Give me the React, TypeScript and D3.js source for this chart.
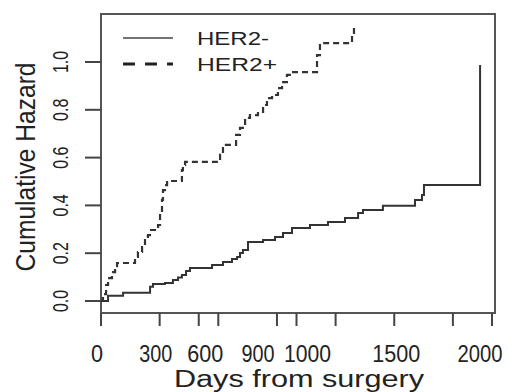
import React, { useEffect, useRef } from 'react';
import * as d3 from 'd3';

// HER2- cumulative hazard (step times in days, value after the step)
const herNegDays = [0, 36, 113, 251, 266, 327, 368, 394, 414, 435, 455, 568, 624, 670, 696, 711, 726, 752, 829, 890, 931, 977, 1069, 1161, 1248, 1315, 1340, 1442, 1606, 1642, 1652, 1939];
const herNegHazard = [0, 0.022, 0.035, 0.06, 0.071, 0.075, 0.088, 0.098, 0.109, 0.126, 0.138, 0.151, 0.163, 0.176, 0.184, 0.201, 0.213, 0.247, 0.255, 0.268, 0.285, 0.305, 0.318, 0.331, 0.347, 0.368, 0.381, 0.399, 0.423, 0.444, 0.485, 0.987];

// HER2+ cumulative hazard
const herPosDays = [0, 10, 26, 36, 56, 72, 82, 174, 189, 210, 225, 240, 256, 292, 302, 312, 317, 327, 338, 414, 419, 430, 609, 624, 639, 691, 711, 737, 762, 803, 829, 849, 875, 905, 926, 951, 977, 1105, 1120, 1130, 1284, 1294];
const herPosHazard = [0, 0.029, 0.067, 0.096, 0.121, 0.146, 0.159, 0.184, 0.205, 0.226, 0.255, 0.276, 0.297, 0.318, 0.372, 0.423, 0.464, 0.485, 0.502, 0.548, 0.569, 0.582, 0.611, 0.64, 0.653, 0.695, 0.724, 0.766, 0.778, 0.791, 0.82, 0.849, 0.862, 0.891, 0.916, 0.946, 0.958, 1.029, 1.071, 1.079, 1.113, 1.142];

const xTicks = [0, 300, 500, 600, 900, 1000, 1200, 1500, 1800, 2000];
const xLabelValues = [0, 300, 600, 900, 1000, 1500, 2000];
const xLabels = ['0', '300', '600', '900', '1000', '1500', '2000'];
const yTicks = [0, 0.2, 0.4, 0.6, 0.8, 1.0];
const yLabels = ['0.0', '0.2', '0.4', '0.6', '0.8', '1.0'];
const seriesNames = ['HER2-', 'HER2+'];

// label nudges as they sit in the source picture (px)
const xLabelShift = [-4, -4, -13, -19, 11, 2, -12];
const xLabelWidth = [12, 33, 36, 33, 47, 48, 45];

const FONT = '"Liberation Sans", Arial, sans-serif';
const INK = '#333';

export default function App() {
  const svgRef = useRef<SVGSVGElement>(null);

  useEffect(() => {
    if (!svgRef.current) return;
    const svg = d3.select(svgRef.current);
    svg.selectAll('*').remove();

    const x = d3.scaleLinear().domain([0, 2000]).range([101, 492]);
    const y = d3.scaleLinear().domain([0, 1]).range([301, 62]);

    const box = { left: 101, right: 495, top: 14, bottom: 313 };

    svg.append('rect')
      .attr('x', box.left)
      .attr('y', box.top)
      .attr('width', box.right - box.left)
      .attr('height', box.bottom - box.top)
      .attr('fill', 'none')
      .attr('stroke', '#555')
      .attr('stroke-width', 2);

    // x ticks
    svg.append('g').selectAll('line')
      .data(xTicks)
      .enter()
      .append('line')
      .attr('x1', d => x(d))
      .attr('x2', d => x(d))
      .attr('y1', box.bottom)
      .attr('y2', box.bottom + 13)
      .attr('stroke', '#444')
      .attr('stroke-width', 2);

    svg.append('g').selectAll('text')
      .data(xLabelValues)
      .enter()
      .append('text')
      .attr('x', (d, i) => x(d) + xLabelShift[i])
      .attr('y', 362)
      .attr('text-anchor', 'middle')
      .attr('font-family', FONT)
      .attr('font-size', 23)
      .attr('textLength', (d, i) => xLabelWidth[i])
      .attr('lengthAdjust', 'spacingAndGlyphs')
      .attr('fill', '#222')
      .text((d, i) => xLabels[i]);

    // y ticks
    svg.append('g').selectAll('line')
      .data(yTicks)
      .enter()
      .append('line')
      .attr('x1', box.left - 16)
      .attr('x2', box.left)
      .attr('y1', d => y(d))
      .attr('y2', d => y(d))
      .attr('stroke', '#444')
      .attr('stroke-width', 2);

    svg.append('g').selectAll('text')
      .data(yTicks)
      .enter()
      .append('text')
      .attr('transform', d => `translate(68,${y(d)}) rotate(-90) scale(1,1.35)`)
      .attr('text-anchor', 'middle')
      .attr('font-family', FONT)
      .attr('font-size', 16)
      .attr('fill', '#222')
      .text((d, i) => yLabels[i]);

    svg.append('text')
      .attr('transform', 'translate(35,167) rotate(-90) scale(1,1.17)')
      .attr('text-anchor', 'middle')
      .attr('font-family', FONT)
      .attr('font-size', 24)
      .attr('textLength', 209)
      .attr('lengthAdjust', 'spacingAndGlyphs')
      .attr('fill', '#222')
      .text('Cumulative Hazard');

    svg.append('text')
      .attr('x', 299)
      .attr('y', 387)
      .attr('text-anchor', 'middle')
      .attr('font-family', FONT)
      .attr('font-size', 23.5)
      .attr('textLength', 250)
      .attr('lengthAdjust', 'spacingAndGlyphs')
      .attr('fill', '#222')
      .text('Days from surgery');

    const line = d3.line<[number, number]>()
      .x(d => x(d[0]))
      .y(d => y(d[1]))
      .curve(d3.curveStepAfter);

    const negPts = herNegDays.map((d, i) => [d, herNegHazard[i]] as [number, number]);
    const posPts = herPosDays.map((d, i) => [d, herPosHazard[i]] as [number, number]);

    svg.append('path')
      .attr('d', line(negPts))
      .attr('fill', 'none')
      .attr('stroke', INK)
      .attr('stroke-width', 2);

    svg.append('path')
      .attr('d', line(posPts))
      .attr('fill', 'none')
      .attr('stroke', INK)
      .attr('stroke-width', 2.2)
      .attr('stroke-dasharray', '6,4');

    // legend
    const legend = svg.append('g');
    seriesNames.forEach((name, i) => {
      const ly = 38 + i * 26;
      legend.append('line')
        .attr('x1', 123)
        .attr('x2', 173)
        .attr('y1', ly)
        .attr('y2', ly)
        .attr('stroke', i === 0 ? '#444' : '#222')
        .attr('stroke-width', i === 0 ? 1.6 : 2.8)
        .attr('stroke-dasharray', i === 0 ? null : '12,10');
      legend.append('text')
        .attr('x', 197)
        .attr('y', ly + 7)
        .attr('font-family', FONT)
        .attr('font-size', 19)
        .attr('textLength', i === 0 ? 72 : 80)
        .attr('lengthAdjust', 'spacingAndGlyphs')
        .attr('fill', '#222')
        .text(name);
    });
  }, []);

  return (
    <svg
      ref={svgRef}
      width={508}
      height={392}
      style={{ position: 'absolute', left: 0, top: 0, background: '#fff', display: 'block' }}
    />
  );
}
